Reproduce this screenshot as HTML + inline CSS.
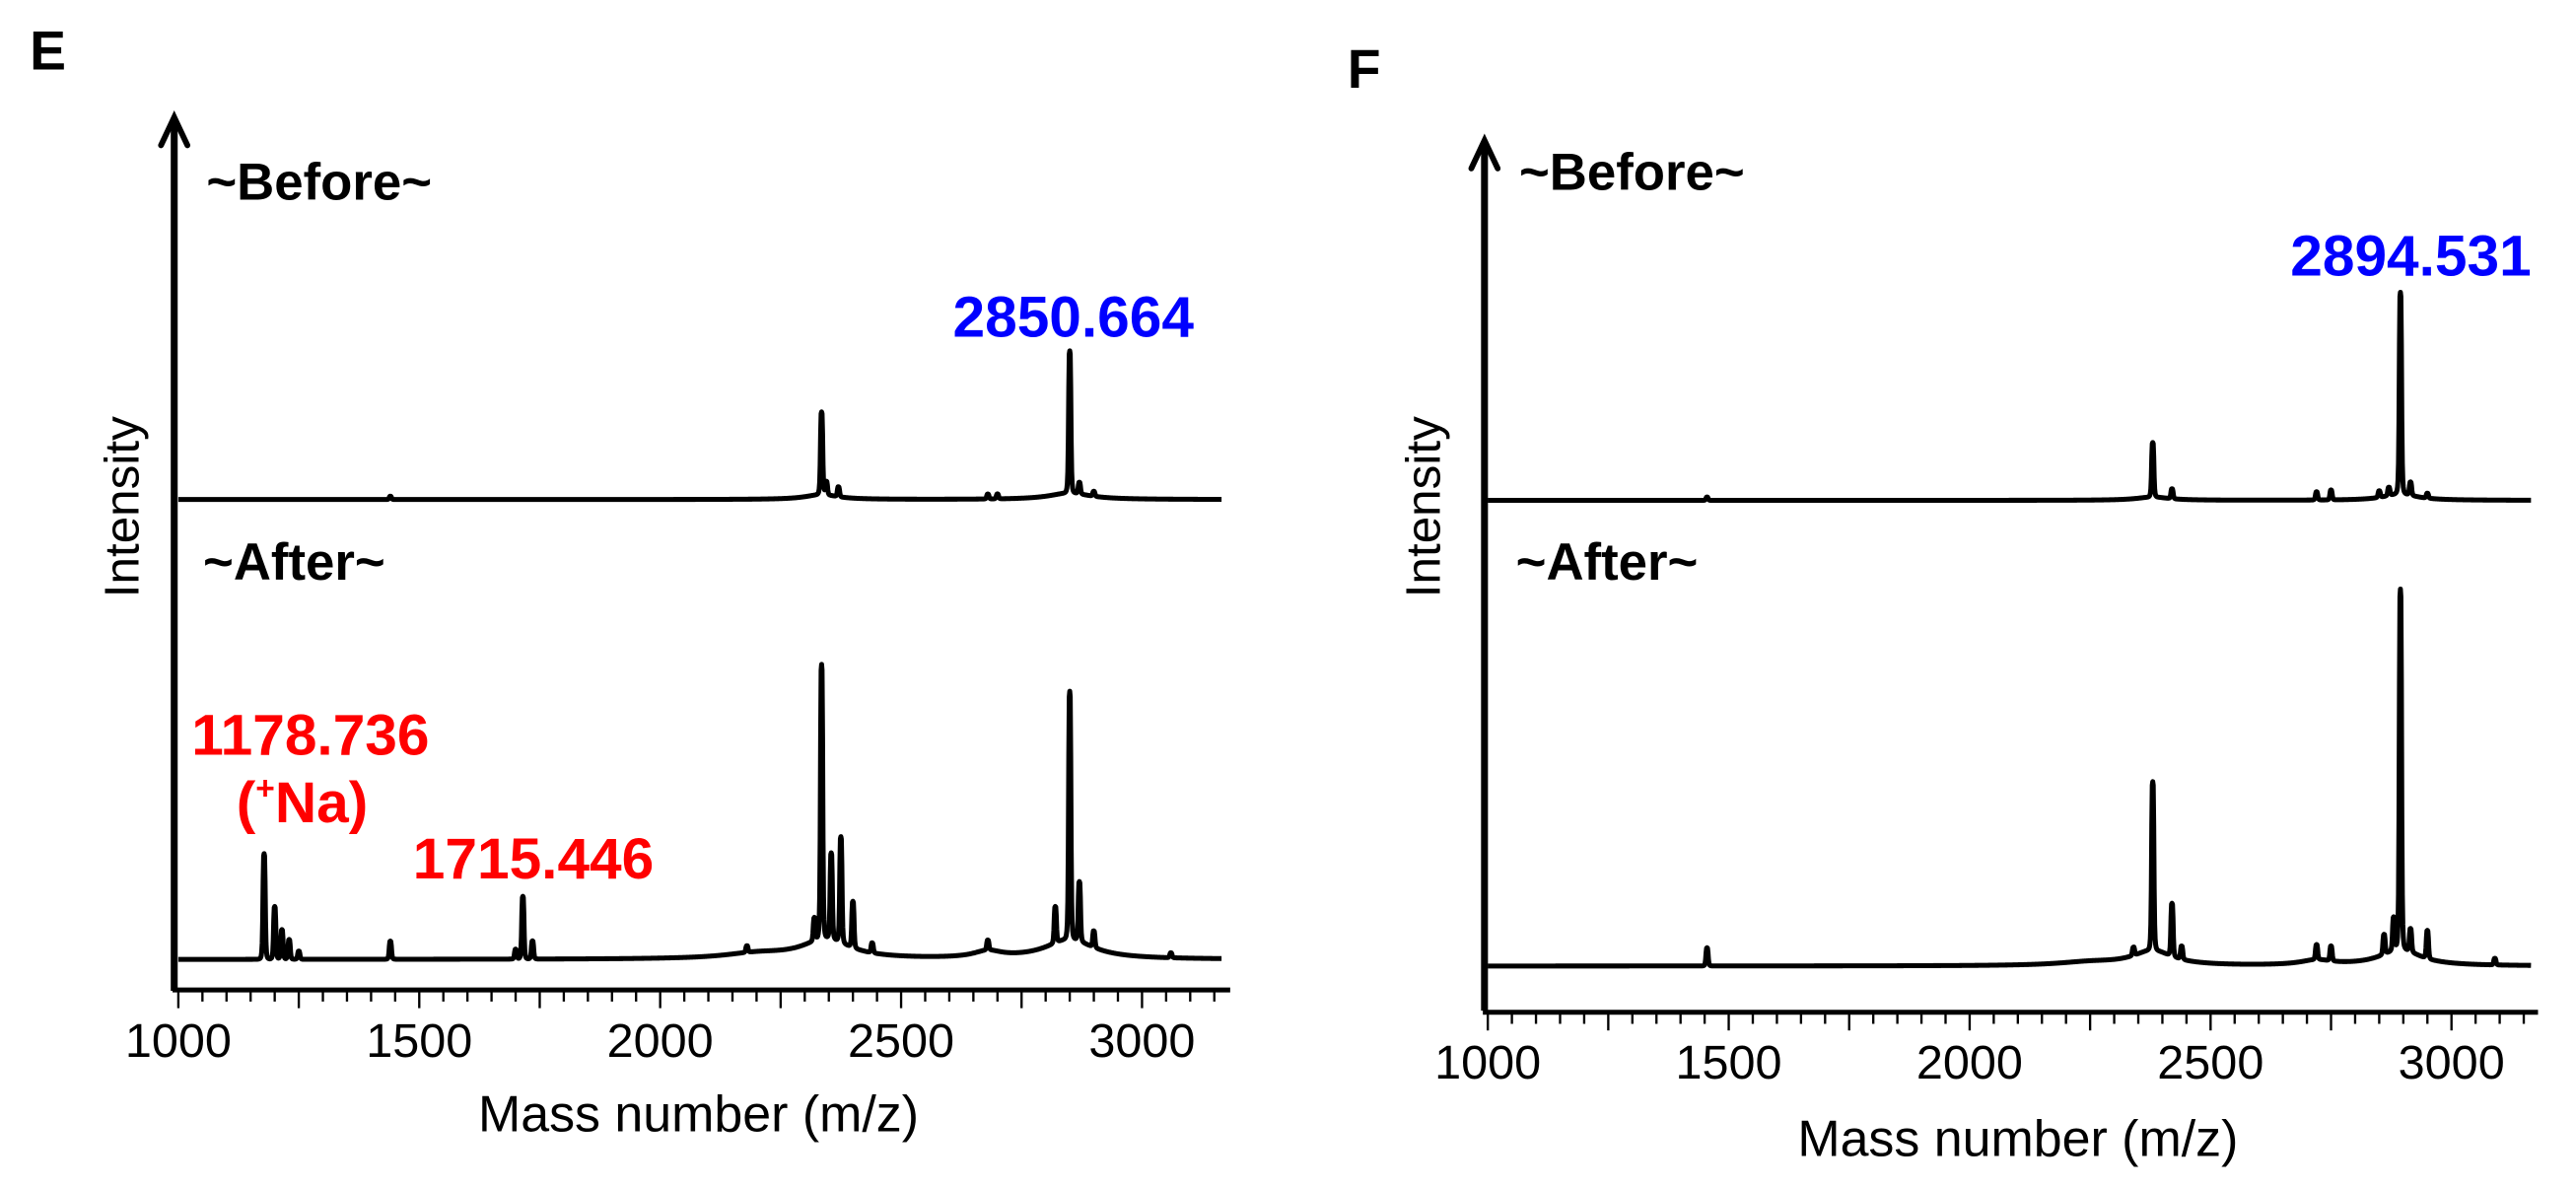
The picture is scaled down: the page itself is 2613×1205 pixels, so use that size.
<!DOCTYPE html>
<html><head><meta charset="utf-8"><style>
html,body{margin:0;padding:0;background:#fff;}
svg{display:block;}
text{font-family:"Liberation Sans",Arial,sans-serif;}
.b{font-weight:bold;}
</style></head><body>
<svg id="fig" width="2613" height="1205" viewBox="0 0 1560 719.4" preserveAspectRatio="none" xmlns="http://www.w3.org/2000/svg">
<rect width="1560" height="719.4" fill="#fff"/>
<!-- Panel E -->
<g>
<text class="b" x="18" y="42" font-size="33">E</text>
<text class="b" x="125" y="121" font-size="31.5">~Before~</text>
<text class="b" x="123" y="351" font-size="31.5">~After~</text>
<text class="b" x="650" y="204" font-size="35" fill="#0000ff" text-anchor="middle">2850.664</text>
<text class="b" x="188" y="457" font-size="35" fill="#ff0000" text-anchor="middle">1178.736</text>
<text class="b" x="183" y="498" font-size="35" fill="#ff0000" text-anchor="middle">(<tspan font-size="20" dy="-14">+</tspan><tspan dy="14">Na)</tspan></text>
<text class="b" x="323" y="532" font-size="35" fill="#ff0000" text-anchor="middle">1715.446</text>
<text x="0" y="0" font-size="29.5" text-anchor="middle" transform="translate(84,307) rotate(-90)">Intensity</text>
<text x="423" y="685" font-size="31" text-anchor="middle">Mass number (m/z)</text>
<g id="eAxes"></g>
<g id="eSpec"></g>
</g>
<!-- Panel F -->
<g>
<text class="b" x="816" y="53" font-size="33">F</text>
<text class="b" x="920" y="115" font-size="31.5">~Before~</text>
<text class="b" x="918" y="351" font-size="31.5">~After~</text>
<text class="b" x="1460" y="167" font-size="35" fill="#0000ff" text-anchor="middle">2894.531</text>
<text x="0" y="0" font-size="29.5" text-anchor="middle" transform="translate(872,307) rotate(-90)">Intensity</text>
<text x="1222" y="700" font-size="31" text-anchor="middle">Mass number (m/z)</text>
<g id="fAxes"></g>
<g id="fSpec"></g>
</g>
</svg>
<script>
// ---- data (m/z, intensity in display units above baseline) ----
const tickLabels = [1000, 1500, 2000, 2500, 3000];
const eBeforePeaks = [[1440,2],[2335,50],[2345,8],[2370,6],[2680,3],[2700,3],[2850,86],[2870,7],[2900,3]];
const eBeforeHumps = [[2335,3,40],[2850,4,50]];
const eAfterPeaks = [[1178,64],[1200,32],[1215,18],[1230,12],[1250,5],[1440,11],[1700,6],[1715,38],[1735,11],[2180,4],[2320,14],[2335,166],[2355,52],[2375,64],[2400,28],[2440,6],[2680,6],[2820,22],[2850,150],[2870,36],[2900,10],[3060,3]];
const eAfterHumps = [[2345,12,60],[2850,12,60],[2680,4,35],[2200,3,80]];
const fBeforePeaks = [[1455,2],[2380,33],[2420,6],[2720,5],[2750,6],[2850,4],[2870,5],[2894,122],[2915,8],[2950,3]];
const fBeforeHumps = [[2894,4,40],[2380,2,40]];
const fAfterPeaks = [[1455,11],[2340,5],[2380,102],[2420,32],[2440,8],[2720,9],[2750,9],[2860,12],[2880,20],[2894,218],[2915,14],[2950,17],[3090,4]];
const fAfterHumps = [[2380,9,50],[2894,10,50],[2720,3,40],[2250,2,80]];

const NS = "http://www.w3.org/2000/svg";
function mk(tag, attrs, parent){const e=document.createElementNS(NS,tag);for(const k in attrs)e.setAttribute(k,attrs[k]);parent.appendChild(e);return e;}

function panel(o){
  const xs = m => o.x0 + (m-1000)*0.2918;
  const ax = document.getElementById(o.axesId);
  const ya = mk('line',{x1:o.yx,y1:o.ytop+2,x2:o.yx,y2:o.ybot,stroke:'#000','stroke-width':4.2},ax);
  
  
  const ar = mk('polyline',{points:(o.yx-8)+','+(o.ytop+17)+' '+o.yx+','+o.ytop+' '+(o.yx+8)+','+(o.ytop+17),fill:'none',stroke:'#000','stroke-width':3.5,'stroke-linecap':'round','stroke-linejoin':'miter'},ax);
  
  
  const xa = mk('line',{x1:o.yx-1,y1:o.xy,x2:o.xend,y2:o.xy,stroke:'#000','stroke-width':3},ax);
  
  
  for(let m=1000;m<=3160;m+=50){
    const x=xs(m); if(x>o.xend) break;
    const major = (m%250===0);
    const t = mk('line',{x1:x,y1:o.xy,x2:x,y2:o.xy+(major?11:7),stroke:'#000','stroke-width':1.4},ax);
    
    
  }
  tickLabels.forEach(v=>{
    const t = mk('text',{x:xs(v),y:o.labY,'font-size':29,'text-anchor':'middle'},ax);
    t.textContent = v;
    
    
  });
  const sp = document.getElementById(o.specId);
  [[o.before,o.beforeHumps,o.bBase,'before'],[o.after,o.afterHumps,o.aBase,'after']].forEach(([pk,hm,base,nm])=>{
    let d='';
    for(let m=1000;m<=3165;m+=1){
      const x=xs(m); if(x>o.xend+2) break;
      let v=0;
      pk.forEach(([c,h])=>{const u=(m-c)/2.6; v+=h/(1+u*u*u*u);});
      hm.forEach(([c,h,w])=>{const u=(m-c)/w; v+=h/(1+u*u);});
      d += (d?'L':'M')+x.toFixed(2)+','+(base-v).toFixed(2);
    }
    const p = mk('path',{d:d,fill:'none',stroke:'#000','stroke-width':3,'stroke-linejoin':'round'},sp);
    
    
  });
}
panel({p:'panel-e',axesId:'eAxes',specId:'eSpec',x0:108,yx:105.5,ytop:71,ybot:600,xy:599.5,xend:745,labY:640,
  bBase:302.5,aBase:581,before:eBeforePeaks,beforeHumps:eBeforeHumps,after:eAfterPeaks,afterHumps:eAfterHumps});
panel({p:'panel-f',axesId:'fAxes',specId:'fSpec',x0:901,yx:899,ytop:85,ybot:612,xy:613,xend:1537,labY:653,
  bBase:303,aBase:585,before:fBeforePeaks,beforeHumps:fBeforeHumps,after:fAfterPeaks,afterHumps:fAfterHumps});
</script>
</body></html>
